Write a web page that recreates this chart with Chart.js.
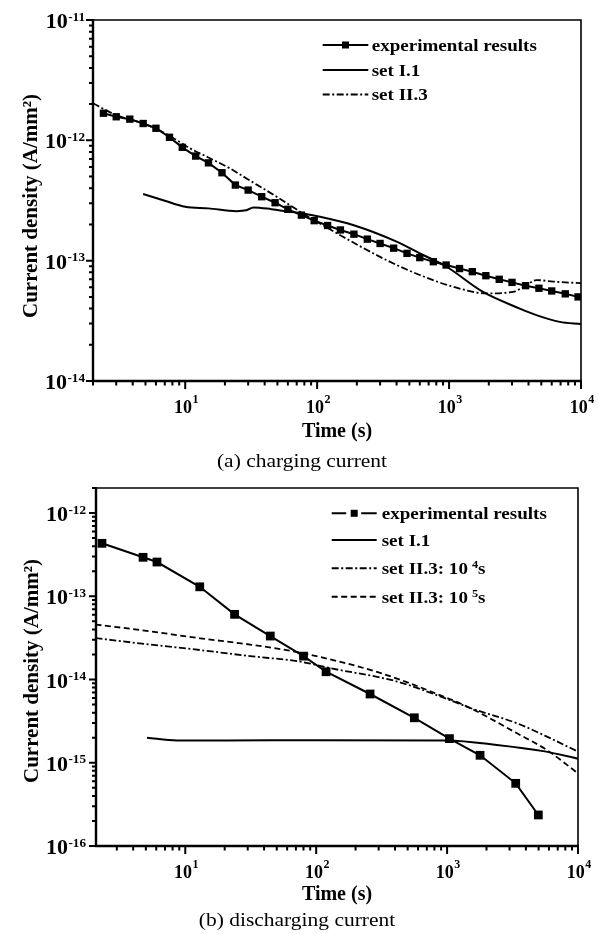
<!DOCTYPE html>
<html><head><meta charset="utf-8">
<script src="https://cdn.jsdelivr.net/npm/chart.js@4.4.1/dist/chart.umd.min.js"></script>
<style>
html,body{margin:0;padding:0;background:#fff;width:599px;height:934px;overflow:hidden}
canvas{position:absolute;left:0}
</style></head><body>
<canvas id="ca" width="599" height="478" style="top:0"></canvas>
<canvas id="cb" width="599" height="456" style="top:478px"></canvas>
<script>
// ---------- (a) charging current ----------
const timeExpA = [2.4,3.0,3.8,4.8,6.0,7.6,9.5,12,15,19,24,30,38,48,60,76,95,120,150,190,240,300,380,480,600,760,950,1200,1500,1900,2400,3000,3800,4800,6000,7600,9500];
const curExpA = [1.68e-12,1.57e-12,1.50e-12,1.38e-12,1.26e-12,1.06e-12,8.75e-13,7.4e-13,6.5e-13,5.38e-13,4.25e-13,3.86e-13,3.40e-13,3.03e-13,2.67e-13,2.39e-13,2.15e-13,1.96e-13,1.80e-13,1.66e-13,1.51e-13,1.39e-13,1.27e-13,1.15e-13,1.06e-13,9.8e-14,9.2e-14,8.6e-14,8.1e-14,7.5e-14,7.0e-14,6.6e-14,6.2e-14,5.9e-14,5.6e-14,5.3e-14,5.0e-14];
const timeI1A = [4.8,7,10,15,24.5,29,33,45,62,78,105,187,400,600,957,1810,3435,4590,6900,10000];
const curI1A = [3.58e-13,3.15e-13,2.81e-13,2.72e-13,2.58e-13,2.62e-13,2.77e-13,2.68e-13,2.55e-13,2.47e-13,2.32e-13,1.98e-13,1.44e-13,1.15e-13,8.9e-14,5.5e-14,4.0e-14,3.53e-14,3.1e-14,2.97e-14];
const timeII3A = [2,3,5,7.5,10.9,15,21.8,30,49.3,78,157,336,600,1074,1920,3055,3860,4590,6150,10000];
const curII3A = [2.03e-12,1.62e-12,1.36e-12,1.1e-12,8.57e-13,7.2e-13,5.85e-13,4.73e-13,3.40e-13,2.47e-13,1.58e-13,1.01e-13,7.6e-14,6.07e-14,5.35e-14,5.5e-14,6.27e-14,6.9e-14,6.7e-14,6.5e-14];

// ---------- (b) discharging current ----------
const timeExpB = [2.31,4.76,6.08,12.9,23.8,44.6,80,119,258,562,1042,1786,3343,4977];
const curExpB = [4.33e-13,2.94e-13,2.58e-13,1.30e-13,6.07e-14,3.33e-14,1.91e-14,1.24e-14,6.7e-15,3.47e-15,1.95e-15,1.23e-15,5.66e-16,2.36e-16];
const timeI1B = [5.1,8.6,20,100,1000,2400,5430,10000];
const curI1B = [2.0e-15,1.85e-15,1.85e-15,1.87e-15,1.85e-15,1.64e-15,1.38e-15,1.12e-15];
const timeII3B4 = [2.06,4.95,13,31.3,75.5,128,415,1000,1500,3420,5790,10000];
const curII3B4 = [3.15e-14,2.67e-14,2.26e-14,1.91e-14,1.64e-14,1.37e-14,9.46e-15,5.83e-15,4.55e-15,2.98e-15,2.06e-15,1.36e-15];
const timeII3B5 = [2.06,4.53,13,31.3,75.5,308,1000,1500,3420,5790,10000];
const curII3B5 = [4.58e-14,3.94e-14,3.13e-14,2.63e-14,2.10e-14,1.20e-14,6.0e-15,4.55e-15,2.26e-15,1.42e-15,7.46e-16];

// ---------- axes / labels ----------
const xTickExp = [1,2,3,4];
const yTickExpA = [-11,-12,-13,-14];
const yTickExpB = [-12,-13,-14,-15,-16];
const xTitle = 'Time (s)';
const yTitle = 'Current density (A/mm\u00B2)';
const captionA = '(a) charging current';
const captionB = '(b) discharging current';
const legendA = [['experimental results'],['set I.1'],['set II.3']];
const legendB = [['experimental results'],['set I.1'],['set II.3: 10','4','s'],['set II.3: 10','5','s']];

const FONT = '"Liberation Serif","Times New Roman",Times,serif';
const DASHDOT = [7,2.5,2,2.5];
const DASH = [6,3.5];

function pts(xs, ys){ return xs.map((x,i)=>({x:x, y:ys[i]})); }
function ds(label, xs, ys, extra){
  return Object.assign({label:label, data:pts(xs,ys), borderColor:'#000', backgroundColor:'#000',
    borderWidth:2, pointRadius:0, fill:false, tension:0}, extra||{});
}
function logTicks(lo, hi){
  const out=[];
  for(let e=Math.floor(Math.log10(lo)); e<=Math.ceil(Math.log10(hi)); e++){
    for(let m=1;m<=9;m++){ const v=m*Math.pow(10,e); if(v>=lo*0.9999 && v<=hi*1.0001) out.push({v:v, major:m===1}); }
  }
  return out;
}
function txt(ctx, s, x, y, font, sx){
  ctx.save(); ctx.font=font; ctx.textAlign='left'; ctx.textBaseline='alphabetic';
  const w=ctx.measureText(s).width*sx;
  ctx.translate(x,y); ctx.scale(sx,1); ctx.fillText(s,0,0); ctx.restore();
  return w;
}
function ctext(ctx, s, cx, y, font, sx){
  ctx.save(); ctx.font=font; const w=ctx.measureText(s).width*sx; ctx.restore();
  txt(ctx, s, cx-w/2, y, font, sx);
}
function pow(ctx, base, sup, x, y, bs, ss, align, rise, gap, sx){
  const bf='bold '+bs+'px '+FONT, sf='bold '+ss+'px '+FONT;
  ctx.save(); ctx.font=bf; const wb=ctx.measureText(base).width*sx;
  ctx.font=sf; const ws=ctx.measureText(sup).width*sx; ctx.restore();
  const w=wb+gap+ws;
  const x0 = align==='right' ? x-w : (align==='center' ? x-w/2 : x);
  txt(ctx, base, x0, y, bf, sx);
  txt(ctx, sup, x0+wb+gap, y-rise, sf, sx);
}
function drawSym(ctx, type, x0, x1, y, sq){
  ctx.save(); ctx.strokeStyle='#000'; ctx.fillStyle='#000'; ctx.lineWidth=2;
  const cx=(x0+x1)/2;
  ctx.beginPath();
  if(type==='expGap'){
    ctx.moveTo(x0,y); ctx.lineTo(cx-8,y); ctx.moveTo(cx+7,y); ctx.lineTo(x1,y);
  } else {
    if(type==='dashdot') ctx.setLineDash(DASHDOT);
    if(type==='dash') ctx.setLineDash(DASH);
    ctx.moveTo(x0,y); ctx.lineTo(x1,y);
  }
  ctx.stroke(); ctx.setLineDash([]);
  if(type==='exp' || type==='expGap') ctx.fillRect(cx-sq/2, y-sq/2, sq, sq);
  ctx.restore();
}
function makeDecor(o){
  return {
    id:'decor',
    afterDraw(chart){
      const ctx=chart.ctx, a=chart.chartArea, xs=chart.scales.x, ys=chart.scales.y;
      ctx.save();
      ctx.strokeStyle='#000'; ctx.fillStyle='#000'; ctx.setLineDash([]);
      ctx.lineWidth=1.6;
      ctx.beginPath(); ctx.moveTo(a.left,a.top); ctx.lineTo(a.right,a.top); ctx.lineTo(a.right,a.bottom); ctx.stroke();
      ctx.lineWidth=2.4;
      ctx.beginPath(); ctx.moveTo(a.left,a.top-0.8); ctx.lineTo(a.left,a.bottom); ctx.lineTo(a.right+0.8,a.bottom); ctx.stroke();
      ctx.lineWidth=2;
      ctx.beginPath();
      logTicks(ys.min, ys.max).forEach(t=>{ const p=ys.getPixelForValue(t.v); ctx.moveTo(a.left-(t.major?7:4),p); ctx.lineTo(a.left,p); });
      logTicks(xs.min, xs.max).forEach(t=>{ const p=xs.getPixelForValue(t.v); ctx.moveTo(p,a.bottom); ctx.lineTo(p,a.bottom+(t.major?8:4.5)); });
      ctx.stroke();
      o.yExp.forEach(e=>{ const p=ys.getPixelForValue(Math.pow(10,e)); pow(ctx,'10',String(e),a.left-o.yLabGap,p+8,20,12,'right',7.5,0.5,1.1); });
      o.xExp.forEach(e=>{ const p=xs.getPixelForValue(Math.pow(10,e)); pow(ctx,'10',String(e),p+1,a.bottom+32,18,12,'center',10,0.5,1.0); });
      ctext(ctx, xTitle, (a.left+a.right)/2, a.bottom+o.timeOff, 'bold 20px '+FONT, 1.0);
      ctext(ctx, o.caption, o.capX, o.capY, '19px '+FONT, 1.13);
      ctx.save(); ctx.translate(o.yTitleX, o.yTitleY); ctx.rotate(-Math.PI/2);
      ctx.font='bold 21px '+FONT; ctx.textAlign='center'; ctx.textBaseline='alphabetic';
      ctx.fillText(yTitle,0,0); ctx.restore();
      const L=o.legend;
      L.items.forEach((parts,i)=>{
        const y=L.rows[i];
        drawSym(ctx, L.types[i], L.x0, L.x1, y, L.sq);
        let x=L.tx; const ty=y+L.dy;
        x+=txt(ctx, parts[0], x, ty, 'bold 17px '+FONT, 1.12);
        if(parts.length>1){
          x+=4;
          x+=txt(ctx, parts[1], x, ty-6, 'bold 11px '+FONT, 1.12);
          x+=txt(ctx, parts[2], x, ty, 'bold 17px '+FONT, 1.12);
        }
      });
      ctx.restore();
    }
  };
}
function baseOptions(pad, xmin, xmax, ymin, ymax){
  return {
    responsive:false, animation:false, events:[],
    layout:{padding:pad},
    plugins:{legend:{display:false}, tooltip:{enabled:false}, title:{display:false}},
    scales:{
      x:{type:'logarithmic', min:xmin, max:xmax, display:false},
      y:{type:'logarithmic', min:ymin, max:ymax, display:false}
    }
  };
}

new Chart(document.getElementById('ca'), {
  type:'line',
  data:{datasets:[
    ds('set II.3', timeII3A, curII3A, {borderDash:DASHDOT, borderWidth:1.8, cubicInterpolationMode:'monotone'}),
    ds('set I.1', timeI1A, curI1A, {cubicInterpolationMode:'monotone'}),
    ds('experimental results', timeExpA, curExpA, {pointRadius:5.2, pointStyle:'rect', pointBorderWidth:0, pointBackgroundColor:'#000'})
  ]},
  options: baseOptions({left:93, top:20, right:18, bottom:97}, 2, 1e4, 1e-14, 1e-11),
  plugins:[makeDecor({yExp:yTickExpA, xExp:xTickExp, yLabGap:8, timeOff:56, caption:captionA, capX:302, capY:467,
    yTitleX:37, yTitleY:206,
    legend:{items:legendA, types:['exp','solid','dashdot'], x0:322.7, x1:368.3, tx:371.7, rows:[45,70,94.5], dy:5.5, sq:7}})]
});

new Chart(document.getElementById('cb'), {
  type:'line',
  data:{datasets:[
    ds('set II.3: 10^5 s', timeII3B5, curII3B5, {borderDash:DASH, borderWidth:1.8, cubicInterpolationMode:'monotone'}),
    ds('set II.3: 10^4 s', timeII3B4, curII3B4, {borderDash:DASHDOT, borderWidth:1.8, cubicInterpolationMode:'monotone'}),
    ds('set I.1', timeI1B, curI1B, {cubicInterpolationMode:'monotone'}),
    ds('experimental results', timeExpB, curExpB, {pointRadius:6.2, pointStyle:'rect', pointBorderWidth:0, pointBackgroundColor:'#000'})
  ]},
  options: baseOptions({left:96, top:10, right:21, bottom:88}, 2.08, 1e4, 1e-16, 2e-12),
  plugins:[makeDecor({yExp:yTickExpB, xExp:xTickExp, yLabGap:10, timeOff:54, caption:captionB, capX:297, capY:448,
    yTitleX:37.5, yTitleY:193,
    legend:{items:legendB, types:['expGap','solid','dashdot','dash'], x0:331.7, x1:376.7, tx:381.7, rows:[35.3,62,90.3,118.7], dy:6, sq:7}})]
});
</script>
</body></html>
